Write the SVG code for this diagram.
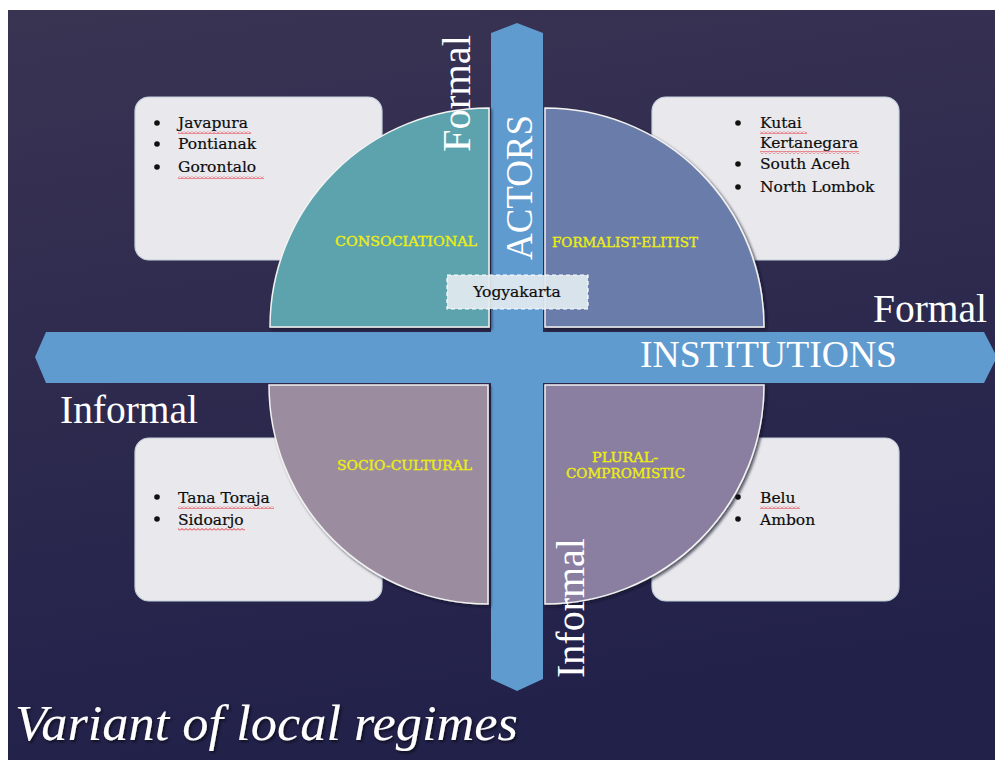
<svg xmlns="http://www.w3.org/2000/svg" width="995" height="760" viewBox="0 0 995 760">
<defs>
<linearGradient id="bg" x1="0" y1="0" x2="0.2" y2="1">
<stop offset="0" stop-color="#3a3453"/>
<stop offset="1" stop-color="#22214a"/>
</linearGradient>
<filter id="sh" x="-10%" y="-10%" width="130%" height="130%">
<feDropShadow dx="2" dy="2" stdDeviation="1.5" flood-color="#15142b" flood-opacity="0.7"/>
</filter>
<filter id="tsh" x="-5%" y="-20%" width="110%" height="150%">
<feDropShadow dx="1.5" dy="2" stdDeviation="1.5" flood-color="#000" flood-opacity="0.6"/>
</filter>
<pattern id="squig" width="4" height="3" patternUnits="userSpaceOnUse">
<path d="M0 2.5 L2 0.5 L4 2.5" fill="none" stroke="#e62a33" stroke-width="1"/>
</pattern>
<style>
.box{fill:#e9e9ed;stroke:#c5d2dc;stroke-width:1.2}
.q{stroke:#f2f2f2;stroke-width:1.5;filter:url(#sh)}
.item{font-family:"DejaVu Serif",serif;font-size:15.5px;fill:#0d0d0d;stroke:#0d0d0d;stroke-width:0.2}
.lab{font-family:"DejaVu Serif",serif;font-size:12.5px;fill:#eeee10;stroke:#eeee10;stroke-width:0.35}
.big{font-family:"Liberation Serif",serif;fill:#fff}
.sq{fill:url(#squig)}
.axis{fill:#5f9bcf}
</style>
</defs>
<rect x="0" y="0" width="995" height="760" fill="#ffffff"/>
<rect x="8" y="10" width="987" height="750" fill="url(#bg)"/>

<g id="boxes">
<g id="box-tl">
<rect class="box" x="135" y="97" width="247" height="163" rx="14"/>
<circle cx="157" cy="123" r="2.8" fill="#111"/>
<circle cx="157" cy="144" r="2.8" fill="#111"/>
<circle cx="157" cy="167" r="2.8" fill="#111"/>
<text class="item" x="178" y="128">Javapura</text>
<text class="item" x="178" y="149">Pontianak</text>
<text class="item" x="178" y="172">Gorontalo</text>
<rect class="sq" x="178" y="131" width="73" height="3"/>
<rect class="sq" x="178" y="176" width="86" height="3"/>
</g>
<g id="box-tr">
<rect class="box" x="652" y="97" width="247" height="163" rx="14"/>
<circle cx="738" cy="123" r="2.8" fill="#111"/>
<circle cx="738" cy="164" r="2.8" fill="#111"/>
<circle cx="738" cy="187" r="2.8" fill="#111"/>
<text class="item" x="760" y="128">Kutai</text>
<text class="item" x="760" y="148">Kertanegara</text>
<text class="item" x="760" y="169">South Aceh</text>
<text class="item" x="760" y="192">North Lombok</text>
<rect class="sq" x="760" y="131" width="47" height="3"/>
<rect class="sq" x="760" y="151" width="99" height="3"/>
</g>
<g id="box-bl">
<rect class="box" x="135" y="438" width="247" height="163" rx="14"/>
<circle cx="157" cy="497" r="2.8" fill="#111"/>
<circle cx="157" cy="519" r="2.8" fill="#111"/>
<text class="item" x="178" y="503">Tana Toraja</text>
<text class="item" x="178" y="525">Sidoarjo</text>
<rect class="sq" x="178" y="506" width="96" height="3"/>
<rect class="sq" x="178" y="528" width="67" height="3"/>
</g>
<g id="box-br">
<rect class="box" x="652" y="438" width="247" height="163" rx="14"/>
<circle cx="738" cy="497" r="2.8" fill="#111"/>
<circle cx="738" cy="519" r="2.8" fill="#111"/>
<text class="item" x="760" y="503">Belu</text>
<text class="item" x="760" y="525">Ambon</text>
<rect class="sq" x="760" y="506" width="40" height="3"/>
</g>
</g>

<g id="connectors">
<polygon class="axis" points="46,332 984,332 997,357 984,383 46,383 35,357"/>
<polygon class="axis" points="491,33 517,23 543,33 543,679 517,691 491,679"/>
</g>

<g id="q-consociational">
<path class="q" fill="#5ba3ad" d="M489,327 L270,327 A219,219 0 0 1 489,108 Z"/>
<text class="lab" x="335" y="246" textLength="142" lengthAdjust="spacingAndGlyphs">CONSOCIATIONAL</text>
</g>
<g id="q-formalist">
<path class="q" fill="#6b7daa" d="M545,327 L545,108 A219,219 0 0 1 764,327 Z"/>
<text class="lab" x="552" y="247" textLength="146" lengthAdjust="spacingAndGlyphs">FORMALIST-ELITIST</text>
</g>
<g id="q-sociocultural">
<path class="q" fill="#9b8d9f" d="M488,385 L488,604 A219,219 0 0 1 269,385 Z"/>
<text class="lab" x="337" y="470" textLength="135" lengthAdjust="spacingAndGlyphs">SOCIO-CULTURAL</text>
</g>
<g id="q-plural">
<path class="q" fill="#8a7fa1" d="M545,385 L764,385 A219,219 0 0 1 545,604 Z"/>
<text class="lab" x="592" y="462" textLength="66" lengthAdjust="spacingAndGlyphs">PLURAL-</text>
<text class="lab" x="566" y="478" textLength="119" lengthAdjust="spacingAndGlyphs">COMPROMISTIC</text>
</g>

<g id="yogyakarta">
<rect x="447" y="275" width="141" height="34" fill="#e2ebf0" fill-opacity="0.93" stroke="#ffffff" stroke-width="1.2" stroke-dasharray="4,3"/>
<text class="item" x="517" y="297" text-anchor="middle" font-size="15">Yogyakarta</text>
</g>

<g id="axis-labels">
<text class="big" font-size="38" transform="translate(532,260) rotate(-90)" textLength="145" lengthAdjust="spacingAndGlyphs">ACTORS</text>
<text class="big" font-size="40" transform="translate(470,152) rotate(-90)" textLength="117" lengthAdjust="spacingAndGlyphs">Formal</text>
<text class="big" font-size="40" transform="translate(584,678) rotate(-90)" textLength="140" lengthAdjust="spacingAndGlyphs">Informal</text>
<text class="big" font-size="40" x="873" y="322" textLength="114" lengthAdjust="spacingAndGlyphs">Formal</text>
<text class="big" font-size="37" x="640" y="367" textLength="257" lengthAdjust="spacingAndGlyphs">INSTITUTIONS</text>
<text class="big" font-size="40" x="60" y="423" textLength="138" lengthAdjust="spacingAndGlyphs">Informal</text>
</g>

<g id="title">
<text class="big" font-size="50" font-style="italic" x="15" y="740" textLength="503" lengthAdjust="spacingAndGlyphs" filter="url(#tsh)">Variant of local regimes</text>
</g>
</svg>
